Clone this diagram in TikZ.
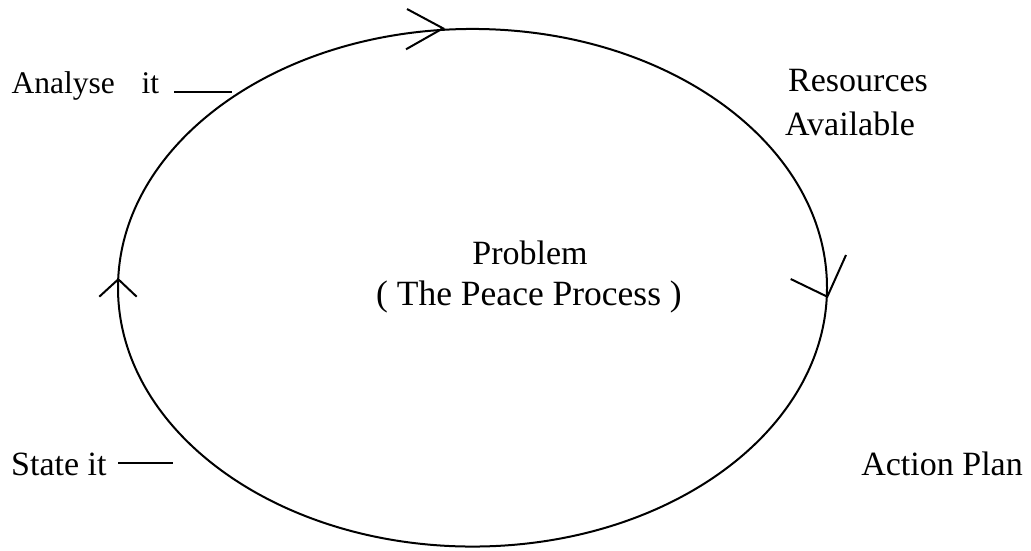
\documentclass[tikz,border=0pt]{standalone}
\usepackage{fontspec}
\setmainfont{Liberation Serif}
\usetikzlibrary{shapes.geometric}
\begin{document}
\begin{tikzpicture}[x=1pt,y=-1pt,
  lbl/.style={inner sep=0pt,font=\fontsize{34}{40}\selectfont},
  ln/.style={line width=2pt},
  head/.style={line width=2pt,line join=miter}]
\useasboundingbox (0,0) rectangle (1031,550);
% cycle
\node[draw,ln,ellipse,inner sep=0pt,minimum width=709pt,minimum height=517.6pt] (cycle) at (472.5,287.75) {};
% arrowheads on the cycle
\coordinate (t1) at (407,9);  \coordinate (t0) at (443,28.3); \coordinate (t2) at (406,49.3);
\draw[head] (t1) -- (t0) -- (t2);
\coordinate (r1) at (790.7,279); \coordinate (r0) at (827.3,296.7); \coordinate (r2) at (846,255);
\draw[head] (r1) -- (r0) -- (r2);
\coordinate (l1) at (99.3,296.7); \coordinate (l0) at (118.3,279.3); \coordinate (l2) at (136.7,296.7);
\draw[head] (l1) -- (l0) -- (l2);
% labels
\node[lbl,font=\fontsize{31.5}{38}\selectfont,anchor=base west] (analyse) at (11.5,93) {Analyse};
\node[lbl,font=\fontsize{31.5}{38}\selectfont,anchor=base west] (analyseIt) at (141.5,93) {it};
\coordinate (analyseStart) at (174,92); \coordinate (analyseEnd) at (232,92);
\draw[ln] (analyseStart) -- (analyseEnd);
\node[lbl,anchor=base west] (res) at (788,91.7) {Resources};
\node[lbl,anchor=base west] (avail) at (785,135) {Available};
\node[lbl,anchor=base] (prob) at (530,264.3) {Problem};
\node[lbl,font=\fontsize{35.5}{40}\selectfont,anchor=base] (peace) at (529,305) {( The Peace Process )};
\node[lbl,anchor=base west] (state) at (11,475) {State it};
\coordinate (stateStart) at (118,463); \coordinate (stateEnd) at (173,463);
\draw[ln] (stateStart) -- (stateEnd);
\node[lbl,anchor=base east] (action) at (1023,475) {Action Plan};
\end{tikzpicture}
\end{document}
